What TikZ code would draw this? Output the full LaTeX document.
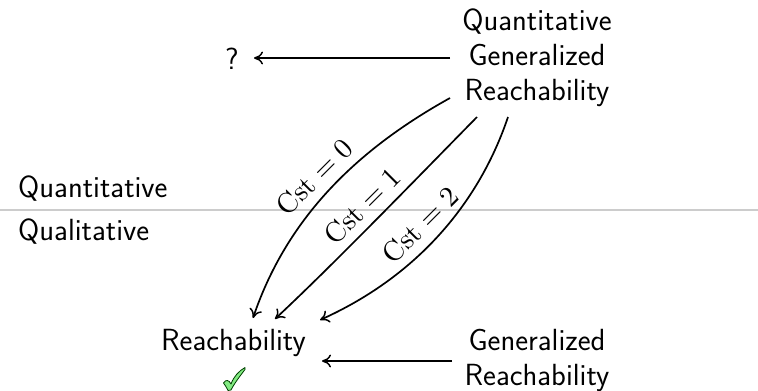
\documentclass[tikz,border=0pt]{standalone}
\usetikzlibrary{arrows.meta}
\tikzset{
  lbl/.style={font=\fontsize{30.6}{35}\selectfont\sffamily, inner sep=0pt, align=center},
  cstlbl/.style={inner sep=0pt, rotate=45, scale=2.85},
  conn/.style={-{Computer Modern Rightarrow[length=9pt,width=13pt,line width=1.5pt]}, line width=1.7pt, black},
}
\definecolor{chk}{RGB}{130,235,130}
\begin{document}
\begin{tikzpicture}[x=1pt,y=-1pt]
\useasboundingbox (0,0) rectangle (758,391);
\draw[line width=2pt, black!20] (0,210) -- (758,210);
\node[lbl,anchor=west] (qn) at (18,189) {Quantitative};
\node[lbl,anchor=west] (ql) at (18,232) {Qualitative};
\node[lbl] (qgr) at (537,58) {Quantitative\\Generalized\\Reachability};
\node[lbl] (unk) at (232,59) {?};
\node[lbl] (r) at (233.5,343) {Reachability};
\node[lbl] (gr) at (537,360) {Generalized\\Reachability};
\coordinate (s0) at (450,98);
\coordinate (e0) at (253,318);
\coordinate (s1) at (477,117);
\coordinate (e1) at (275,319);
\coordinate (s2) at (508,117);
\coordinate (e2) at (320,320);
\coordinate (s3) at (450,58);
\coordinate (e3) at (254,58);
\coordinate (s4) at (452,361);
\coordinate (e4) at (322,361);
\draw[conn] (s3) -- (e3);
\draw[conn] (s0) .. controls (360,148) and (288,215) .. (e0);
\draw[conn] (s1) .. controls (420,175) and (336,262) .. (e1);
\draw[conn] (s2) .. controls (480,200) and (420,275) .. (e2);
\draw[conn] (s4) -- (e4);
\node[cstlbl] (c0) at (314,177) {$\mathrm{Cst}=0$};
\node[cstlbl] (c1) at (362,206) {$\mathrm{Cst}=1$};
\node[cstlbl] (c2) at (420,225) {$\mathrm{Cst}=2$};
\draw[fill=chk, draw=black!50!green!50!black, line width=0.8pt, line join=round]
  (223.5,383) .. controls (226,379) and (229,380) .. (231,384)
  .. controls (234,376) and (239,371) .. (245,367.5)
  -- (245,369.5)
  .. controls (240,376) and (234,384) .. (231,390)
  -- (228,390.5)
  .. controls (227,388) and (225,385) .. cycle;
\end{tikzpicture}
\end{document}
